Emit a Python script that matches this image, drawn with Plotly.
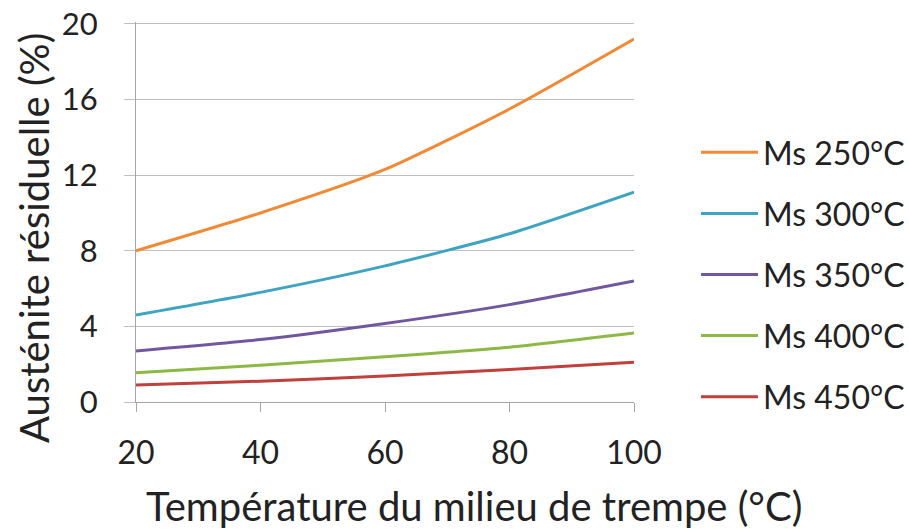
import plotly.graph_objects as go

temps = [20, 40, 60, 80, 100]
series_names = ["Ms 250°C", "Ms 300°C", "Ms 350°C", "Ms 400°C", "Ms 450°C"]
ms250 = [8.0, 10.0, 12.3, 15.5, 19.2]
ms300 = [4.6, 5.8, 7.2, 8.9, 11.1]
ms350 = [2.7, 3.3, 4.15, 5.15, 6.4]
ms400 = [1.55, 1.95, 2.4, 2.9, 3.65]
ms450 = [0.9, 1.1, 1.37, 1.72, 2.1]
colors = ["#F08A36", "#3FA3C2", "#7057A0", "#8DB845", "#C0403D"]
y_ticks = [0, 4, 8, 12, 16, 20]
x_ticks = [20, 40, 60, 80, 100]
x_title = "Température du milieu de trempe (°C)"
y_title = "Austénite résiduelle (%)"

fig = go.Figure()
for i, (name, vals) in enumerate(zip(series_names, [ms250, ms300, ms350, ms400, ms450])):
    fig.add_trace(go.Scatter(
        x=temps, y=vals, name=name, mode="lines",
        line=dict(color=colors[i], width=3, shape="spline", smoothing=0.6),
        legendgroup=name,
    ))

font_family = "Lato"
txt = "#222222"
fig.update_layout(
    width=909, height=529,
    margin=dict(l=136, r=275, t=22, b=127, autoexpand=False),
    paper_bgcolor="white", plot_bgcolor="white",
    font=dict(family=font_family, color=txt),
    showlegend=True,
    legend=dict(
        x=1.1245, xanchor="left", y=0.7289, yanchor="top",
        font=dict(size=32, family=font_family, color=txt),
        tracegroupgap=16.5, itemwidth=57, bgcolor="rgba(0,0,0,0)",
    ),
    xaxis=dict(
        range=[20, 100], tickvals=x_ticks, ticktext=[str(v) for v in x_ticks],
        showgrid=False, showline=True, linecolor="#A6A6A6", linewidth=1,
        ticks="outside", ticklen=9, tickcolor="#A6A6A6", ticklabelstandoff=14,
        ticklabeloverflow="allow",
        tickfont=dict(size=32, family=font_family, color=txt),
        zeroline=False, automargin=False,
    ),
    yaxis=dict(
        range=[0, 20.1], tickvals=y_ticks, ticktext=[str(v) for v in y_ticks],
        showgrid=True, gridcolor="#BFBFBF", gridwidth=1,
        showline=True, linecolor="#A6A6A6", linewidth=1,
        ticks="outside", ticklen=11, tickcolor="#BFBFBF", ticklabelstandoff=20,
        ticklabeloverflow="allow",
        tickfont=dict(size=31, family=font_family, color=txt),
        zeroline=False, automargin=False,
    ),
    annotations=[
        dict(text=x_title, xref="paper", yref="paper", x=0.6787, y=-0.2737,
             xanchor="center", yanchor="middle", showarrow=False,
             font=dict(size=40, family=font_family, color=txt)),
        dict(text=y_title, xref="paper", yref="paper", x=-0.2048, y=0.4316,
             xanchor="center", yanchor="middle", textangle=-90, showarrow=False,
             font=dict(size=40, family=font_family, color=txt)),
    ],
)

fig.write_html("out.html", config={"displayModeBar": False},
               post_script="document.body.style.margin='0px';")
